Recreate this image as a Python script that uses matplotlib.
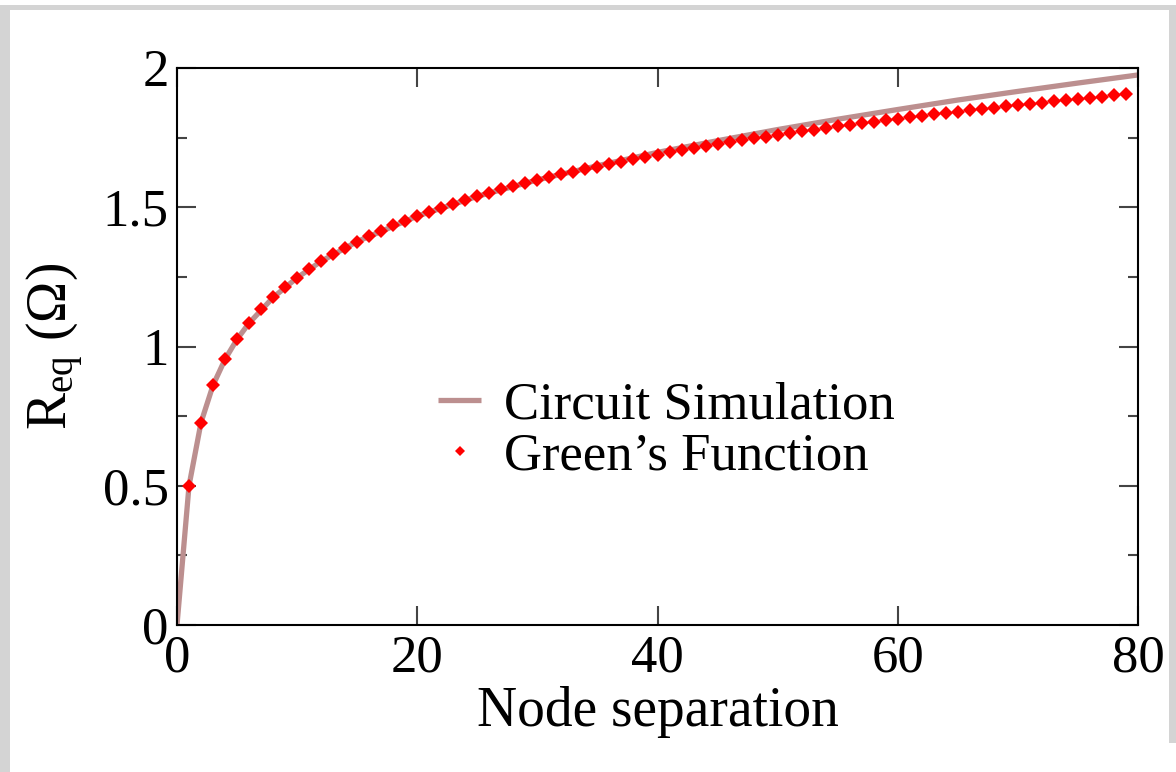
import matplotlib
matplotlib.use("Agg")
import matplotlib.pyplot as plt
from matplotlib.patches import Rectangle

# Equivalent resistance between two nodes of an infinite square lattice of unit resistors
green_n = list(range(1, 80))
green_r = [
    0.500, 0.727, 0.861, 0.954, 1.026, 1.084, 1.134, 1.176, 1.214, 1.247,
    1.278, 1.306, 1.331, 1.355, 1.377, 1.397, 1.416, 1.435, 1.452, 1.468,
    1.484, 1.499, 1.513, 1.526, 1.539, 1.552, 1.564, 1.575, 1.587, 1.597,
    1.608, 1.618, 1.628, 1.637, 1.646, 1.655, 1.664, 1.673, 1.681, 1.689,
    1.697, 1.704, 1.712, 1.719, 1.726, 1.733, 1.740, 1.747, 1.754, 1.760,
    1.766, 1.772, 1.778, 1.784, 1.790, 1.796, 1.802, 1.807, 1.813, 1.818,
    1.823, 1.828, 1.834, 1.839, 1.843, 1.848, 1.853, 1.858, 1.862, 1.867,
    1.872, 1.876, 1.880, 1.885, 1.889, 1.893, 1.897, 1.902, 1.906,
]

# Finite-network circuit simulation
sim_n = [0, 1, 2, 3, 4, 5, 6, 8, 10, 12, 15, 20, 25, 30, 35, 40, 45, 50,
         55, 60, 65, 70, 75, 80]
sim_r = [0.0, 0.500, 0.727, 0.861, 0.954, 1.026, 1.084, 1.176, 1.247, 1.306,
         1.377, 1.468, 1.539, 1.598, 1.649, 1.697, 1.739, 1.779, 1.816, 1.851,
         1.885, 1.916, 1.946, 1.975]

x_ticks = [0, 20, 40, 60, 80]
y_ticks = [0, 0.5, 1, 1.5, 2]
y_ticklabels = ["0", "0.5", "1", "1.5", "2"]

plt.rcParams["font.family"] = ["Liberation Serif", "DejaVu Serif"]
plt.rcParams["mathtext.fontset"] = "custom"
plt.rcParams["mathtext.rm"] = "Liberation Serif"
plt.rcParams["mathtext.it"] = "Liberation Serif:italic"

fig = plt.figure(figsize=(11.76, 7.72), dpi=100)
fig.patch.set_facecolor("white")

# light grey page frame
grey = "#d4d4d4"
fig.add_artist(Rectangle((0, 0), 10 / 1176, 1 - 5 / 772, transform=fig.transFigure,
                         color=grey, lw=0, zorder=0))
fig.add_artist(Rectangle((0, 1 - 10 / 772), 1, 5 / 772, transform=fig.transFigure,
                         color=grey, lw=0, zorder=0))
fig.add_artist(Rectangle((1 - 7 / 1176, 29 / 772), 7 / 1176, 1 - 34 / 772,
                         transform=fig.transFigure, color=grey, lw=0, zorder=0))

ax = fig.add_axes([177 / 1176, 1 - 625 / 772, 961 / 1176, 557 / 772])

ax.plot(sim_n, sim_r, color="#bc8f8f", lw=3.8, solid_capstyle="butt",
        label="Circuit Simulation", zorder=2)
ax.plot(green_n, green_r, linestyle="none", marker="D", markersize=7.4,
        color="#ff0000", markeredgewidth=0, label="Green\u2019s Function", zorder=3)

ax.set_xlim(0, 80)
ax.set_ylim(0, 2)
ax.set_xticks(x_ticks)
ax.set_xticklabels([str(v) for v in x_ticks])
ax.set_yticks(y_ticks)
ax.set_yticklabels(y_ticklabels)
ax.set_yticks([0.25, 0.75, 1.25, 1.75], minor=True)

for s in ax.spines.values():
    s.set_linewidth(1.5)
    s.set_color("black")

ax.tick_params(which="major", direction="in", length=14, width=1.5,
               top=True, right=True, labelsize=38, color="#444444")
ax.tick_params(axis="x", which="major", pad=7)
ax.tick_params(axis="y", which="major", pad=6)
ax.tick_params(which="minor", direction="in", length=7, width=1.5,
               left=True, right=True, color="#444444")

ax.set_xlabel("Node separation", fontsize=40, labelpad=2)
ax.set_ylabel("R$_{\\rm eq}$ (\u03a9)", fontsize=40, labelpad=12)

leg = ax.legend(loc="upper left", bbox_to_anchor=(0.272, 0.437), frameon=False,
                fontsize=38, handlelength=0.8, handletextpad=0.45,
                labelspacing=0.05, borderpad=0, borderaxespad=0,
                markerscale=0.65)

fig.savefig("out.png", dpi=100, facecolor="white")
